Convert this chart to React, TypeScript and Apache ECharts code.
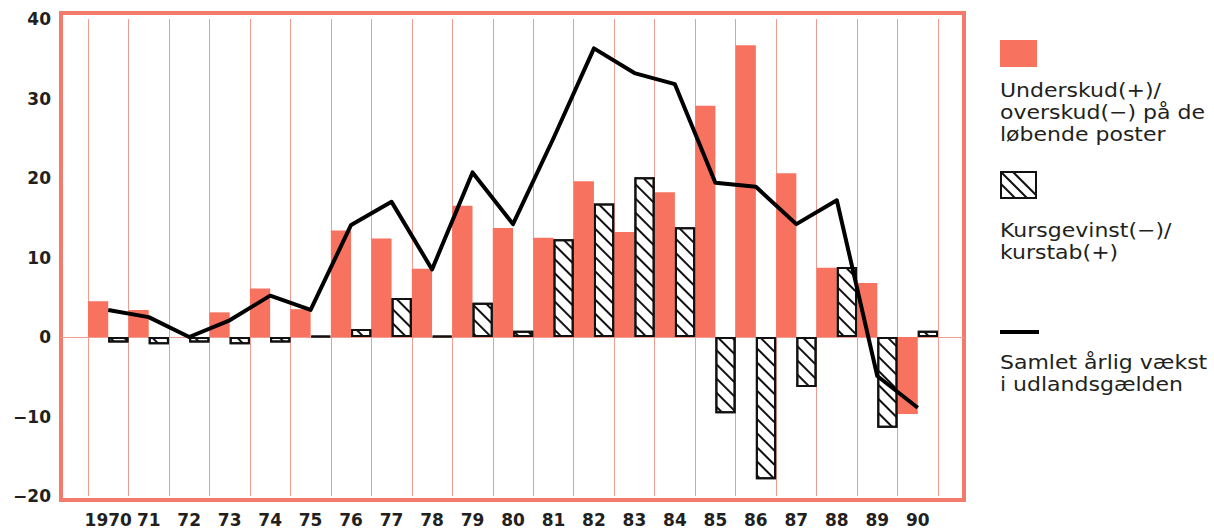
import React, { useEffect, useRef } from "react";
import * as echarts from "echarts";

const years = ["1970", "71", "72", "73", "74", "75", "76", "77", "78", "79", "80", "81", "82", "83", "84", "85", "86", "87", "88", "89", "90"];
const underskud = [4.5, 3.4, 0, 3.1, 6.1, 3.5, 13.4, 12.4, 8.6, 16.5, 13.7, 12.5, 19.6, 13.2, 18.2, 29.1, 36.7, 20.6, 8.7, 6.8, -9.7];
const kursgevinst = [-0.7, -0.9, -0.7, -0.9, -0.7, 0.15, 1.0, 4.9, 0.15, 4.3, 0.8, 12.3, 16.8, 20.1, 13.8, -9.6, -17.9, -6.3, 8.8, -11.4, 0.8];
const samletVaekst = [3.4, 2.5, 0, 2.1, 5.2, 3.4, 14.1, 17.0, 8.5, 20.7, 14.2, 25.0, 36.3, 33.2, 31.8, 19.4, 18.9, 14.2, 17.2, -4.9, -8.9];
const yTicks = { min: -20, max: 40, interval: 10 };

const ORANGE = "#f8735f";
const FRAME = "#f27b6b";
const GRIDLINE = "#f09c90";
const TEXT = "#231f20";

export default function App() {
  const ref = useRef<HTMLDivElement>(null);
  useEffect(() => {
    if (!ref.current) return;
    const chart = echarts.init(ref.current, undefined, { renderer: "svg" });
    const legendFont = '20px "DejaVu Sans"';
    chart.setOption({
      animation: false,
      backgroundColor: "#ffffff",
      grid: [
        { left: 61, right: 250, top: 13, bottom: 30, show: true, borderColor: FRAME, borderWidth: 4, backgroundColor: "transparent" },
        { left: 88, right: 276, top: 19, bottom: 34 },
      ],
      xAxis: [
        {
          gridIndex: 0, type: "value", min: 0, max: 1, show: true,
          axisLine: { show: true, onZero: true, lineStyle: { color: GRIDLINE, width: 1 } },
          axisTick: { show: false }, axisLabel: { show: false }, splitLine: { show: false },
        },
        {
          gridIndex: 1, type: "category", data: years, boundaryGap: true,
          axisLine: { show: false }, axisTick: { show: false },
          axisLabel: { interval: 0, margin: 15, fontSize: 17, fontWeight: "bold", fontFamily: "DejaVu Sans", color: TEXT },
          splitLine: { show: true, interval: 0, lineStyle: { color: GRIDLINE, width: 1 } },
        },
      ],
      yAxis: [
        {
          gridIndex: 0, type: "value", min: -20.5, max: 40.75, show: false,
          splitLine: { show: false },
        },
        {
          gridIndex: 1, type: "value", min: yTicks.min, max: yTicks.max, interval: yTicks.interval,
          axisLine: { show: false }, axisTick: { show: false }, splitLine: { show: false },
          axisLabel: {
            margin: 37, fontSize: 17, fontWeight: "bold", fontFamily: "DejaVu Sans", color: TEXT,
            formatter: (v: number) => (v < 0 ? "\u2212" + Math.abs(v) : String(v)),
          },
        },
      ],
      series: [
        {
          name: "Underskud", type: "bar", xAxisIndex: 1, yAxisIndex: 1, data: underskud,
          barGap: "0%", barCategoryGap: "0%",
          itemStyle: { color: ORANGE },
        },
        {
          name: "Kursgevinst", type: "bar", xAxisIndex: 1, yAxisIndex: 1, data: kursgevinst,
          barGap: "0%", barCategoryGap: "0%",
          itemStyle: {
            color: "#ffffff", borderColor: "#111", borderWidth: 2,
            decal: {
              symbol: "rect", symbolSize: 1, color: "#111", backgroundColor: "#ffffff",
              dashArrayX: [1, 0], dashArrayY: [2, 8], rotation: Math.PI / 4,
            },
          },
        },
        {
          name: "Samlet", type: "line", xAxisIndex: 1, yAxisIndex: 1, data: samletVaekst,
          symbol: "none", z: 5,
          lineStyle: { color: "#000", width: 4, join: "round" },
        },
      ],
      graphic: [
        { type: "rect", shape: { x: 1000, y: 40, width: 37, height: 27 }, style: { fill: ORANGE } },
        {
          type: "text", x: 1000, y: 79, scaleX: 1.1,
          style: { text: "Underskud(+)/\noverskud(\u2212) på de\nløbende poster", font: legendFont, lineHeight: 22, fill: TEXT, textVerticalAlign: "top" },
        },
        {
          type: "group",
          children: [
            { type: "rect", shape: { x: 1001, y: 172, width: 35, height: 26 }, style: { fill: "#fff", stroke: "#111", lineWidth: 2 } },
            { type: "line", shape: { x1: 1001, y1: 172, x2: 1027, y2: 198 }, style: { stroke: "#111", lineWidth: 2 } },
            { type: "line", shape: { x1: 1013, y1: 172, x2: 1036, y2: 195 }, style: { stroke: "#111", lineWidth: 2 } },
            { type: "line", shape: { x1: 1001, y1: 184, x2: 1015, y2: 198 }, style: { stroke: "#111", lineWidth: 2 } },
          ],
        },
        {
          type: "text", x: 1000, y: 219, scaleX: 1.1,
          style: { text: "Kursgevinst(\u2212)/\nkurstab(+)", font: legendFont, lineHeight: 22, fill: TEXT, textVerticalAlign: "top" },
        },
        { type: "line", shape: { x1: 1000, y1: 332, x2: 1039, y2: 332 }, style: { stroke: "#000", lineWidth: 4 } },
        {
          type: "text", x: 1000, y: 351, scaleX: 1.1,
          style: { text: "Samlet årlig vækst\ni udlandsgælden", font: legendFont, lineHeight: 22, fill: TEXT, textVerticalAlign: "top" },
        },
      ],
    });
    return () => chart.dispose();
  }, []);
  return <div ref={ref} style={{ width: 1214, height: 530, position: "absolute", left: 0, top: 0 }} />;
}
